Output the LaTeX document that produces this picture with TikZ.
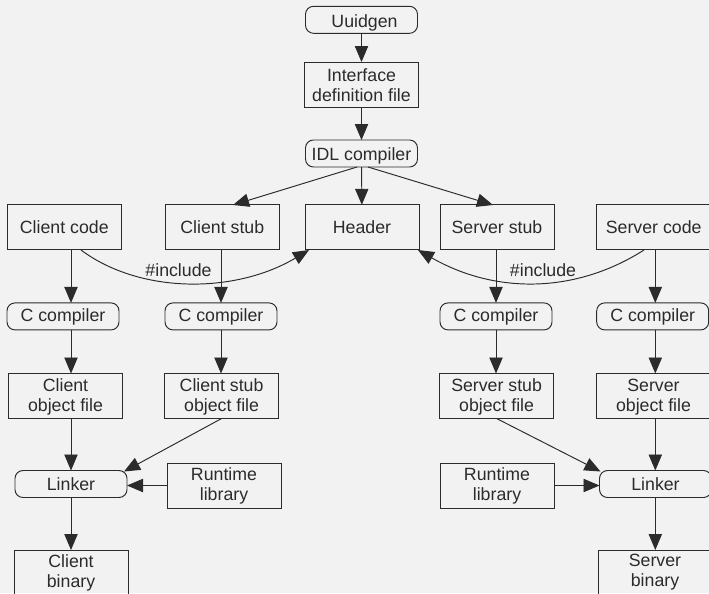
\documentclass[tikz,border=0pt]{standalone}
\usepackage{fontspec}
\setmainfont{Liberation Sans}
\usetikzlibrary{arrows.meta}
\definecolor{bgc}{HTML}{F2F2F2}
\definecolor{ink}{HTML}{2B2B2B}
\newcommand{\lowtxt}{\rule{0pt}{11pt}}
\tikzset{
  x=0.75pt,y=-0.75pt,
  base/.style={draw=ink,line width=0.72pt,text=ink,inner sep=0pt,outer sep=0pt,align=center,font=\fontsize{13.3pt}{15pt}\selectfont},
  sq/.style={base,rectangle,minimum width=85.5pt,minimum height=33.75pt},
  rd/.style={base,rectangle,rounded corners=6pt,minimum width=84pt,minimum height=20.25pt},
  arr/.style={draw=ink,line width=0.72pt,-{Triangle[length=12pt,width=10pt]}},
  lbl/.style={text=ink,inner sep=0pt,font=\fontsize{13.3pt}{15pt}\selectfont}
}
\begin{document}
\begin{tikzpicture}
\path[use as bounding box,fill=bgc] (0,0) rectangle (709,593);
\begin{scope}
\clip (0,0) rectangle (709,593);
\node[rd] (uuid) at (361.5,19.8) {\rule{0pt}{15pt}\kern4.5pt Uuidgen};
\node[sq] (idf) at (361.5,84.5) {\lowtxt Interface\\definition file};
\node[rd] (idl) at (361.5,153.5) {\rule{0pt}{12.6pt}IDL compiler};
\node[sq] (ccode) at (64.3,227.3) {Client code};
\node[sq] (cstub) at (222.3,227.3) {Client stub};
\node[sq] (hdr) at (362,227.3) {Header};
\node[sq] (sstub) at (497,227.3) {Server stub};
\node[sq] (scode) at (653.7,227.3) {Server code};
\node[rd] (cc1) at (63,316.4) {\rule{0pt}{11pt}C compiler};
\node[rd] (cc2) at (221,316.4) {\rule{0pt}{11pt}C compiler};
\node[rd] (cc3) at (496,316.4) {\rule{0pt}{11pt}C compiler};
\node[rd] (cc4) at (652.7,316.4) {\rule{0pt}{11pt}C compiler};
\node[sq] (cobj) at (65.5,396) {\lowtxt Client\\object file};
\node[sq] (csobj) at (221.6,396) {\lowtxt Client stub\\object file};
\node[sq] (ssobj) at (496.6,396) {\lowtxt Server stub\\object file};
\node[sq] (sobj) at (653.5,396) {\lowtxt Server\\object file};
\node[rd] (lk1) at (71,484) {Linker};
\node[sq] (rt1) at (224,485.5) {Runtime\\library};
\node[sq] (rt2) at (497,485.5) {Runtime\\library};
\node[rd] (lk2) at (655.5,484) {Linker};
\node[sq] (cbin) at (71,572.5) {Client\\binary};
\node[sq] (sbin) at (655,572.5) {Server\\binary};
\end{scope}
\coordinate (xa) at (71,0);
\coordinate (xb) at (221,0);
\coordinate (xc) at (496,0);
\coordinate (xd) at (655.3,0);
\coordinate (idlL) at (357,167);
\coordinate (idlR) at (368,167);
\coordinate (tipL) at (233,205);
\coordinate (tipR) at (493,205);
\coordinate (lkL) at (124,471.5);
\coordinate (lkR) at (600.5,471.5);
\draw[arr] (uuid) -- (idf);
\draw[arr] (idf) -- (idl);
\draw[arr] (idl) -- (hdr);
\draw[arr] (idlL) -- (tipL);
\draw[arr] (idlR) -- (tipR);
\draw[arr] (ccode.south -| xa) -- (cc1.north -| xa);
\draw[arr] (cstub.south -| xb) -- (cc2.north -| xb);
\draw[arr] (sstub.south -| xc) -- (cc3.north -| xc);
\draw[arr] (scode.south -| xd) -- (cc4.north -| xd);
\draw[arr] (cc1.south -| xa) -- (cobj.north -| xa);
\draw[arr] (cc2.south -| xb) -- (csobj.north -| xb);
\draw[arr] (cc3.south -| xc) -- (ssobj.north -| xc);
\draw[arr] (cc4.south -| xd) -- (sobj.north -| xd);
\draw[arr] (cobj.south -| xa) -- (lk1.north -| xa);
\draw[arr] (sobj.south -| xd) -- (lk2.north -| xd);
\draw[arr] (csobj.south) -- (lkL);
\draw[arr] (ssobj.south) -- (lkR);
\draw[arr] (rt1.west) -- (rt1.west -| lk1.east);
\draw[arr] (rt2.east) -- (rt2.east -| lk2.west);
\draw[arr] (lk1.south -| xa) -- (cbin.north -| xa);
\draw[arr] (lk2.south -| xd) -- (sbin.north -| xd);
\coordinate (s1) at (81,250);
\coordinate (e1) at (309,250);
\coordinate (s2) at (644,250);
\coordinate (e2) at (418,250);
\draw[arr] (s1) .. controls (140,294) and (235,294) .. (e1);
\draw[arr] (s2) .. controls (575,294) and (495,294) .. (e2);
\node[lbl] (inc1) at (178.5,270) {\#include};
\node[lbl] (inc2) at (543,270) {\#include};
\end{tikzpicture}
\end{document}
